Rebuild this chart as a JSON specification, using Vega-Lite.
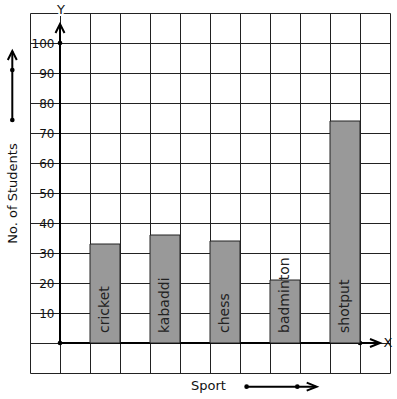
{
  "$schema": "https://vega.github.io/schema/vega-lite/v6.json",
  "width": 360,
  "height": 360,
  "autosize": "none",
  "padding": {"left": 30, "top": 13, "right": 7, "bottom": 26},
  "background": "white",
  "config": {"view": {"stroke": null}, "font": "DejaVu Sans"},
  "layer": [
    {
      "data": {"values": [{}]},
      "layer": [
        {
          "mark": {"type": "rule", "color": "black", "strokeWidth": 2},
          "encoding": {
            "x": {"datum": 0, "type": "quantitative",
              "scale": {"domain": [-1, 11], "nice": false, "zero": false},
              "axis": {"values": [-1,0,1,2,3,4,5,6,7,8,9,10,11], "tickCount": 50, "grid": true, "gridColor": "#222", "gridOpacity": 1, "gridWidth": 1,
                "labels": false, "ticks": false, "domain": false, "labelOverlap": false,
                "title": "Sport", "titleFontSize": 13, "titleFontWeight": "normal", "titleColor": "#111",
                "titleX": 178, "titleY": 12, "titleBaseline": "middle", "titleAlign": "center"}},
            "y": {"datum": 0, "type": "quantitative",
              "scale": {"domain": [-10, 110], "nice": false, "zero": false},
              "axis": {"orient": "left", "values": [-10,0,10,20,30,40,50,60,70,80,90,100,110], "tickCount": 50, "grid": true, "gridColor": "#222", "gridOpacity": 1, "gridWidth": 1,
                "labels": false, "ticks": false, "domain": false, "labelOverlap": false,
                "title": "No. of Students", "titleFontSize": 13, "titleFontWeight": "normal", "titleColor": "#111",
                "titleX": -18, "titleY": 180, "titleBaseline": "middle", "titleAlign": "center", "titleAngle": -90}},
            "y2": {"datum": 106.3}
          }
        },
        {
          "mark": {"type": "rule", "color": "black", "strokeWidth": 2},
          "encoding": {"y": {"datum": 0, "type": "quantitative"}, "x": {"datum": 0, "type": "quantitative"}, "x2": {"datum": 10.65}}
        },
        {
          "mark": {"type": "rule", "color": "black", "strokeWidth": 2},
          "encoding": {"x": {"datum": -1.59, "type": "quantitative"}, "y": {"datum": 74.33, "type": "quantitative"}, "y2": {"datum": 97.3}}
        },
        {
          "mark": {"type": "rule", "color": "black", "strokeWidth": 2},
          "encoding": {"y": {"datum": -14.56, "type": "quantitative"}, "x": {"datum": 6.22, "type": "quantitative"}, "x2": {"datum": 8.52}}
        },
        {"mark": {"type": "point", "filled": true, "color": "black", "size": 22, "opacity": 1},
          "encoding": {"x": {"datum": 0, "type": "quantitative"}, "y": {"datum": 100, "type": "quantitative"}}},
        {"mark": {"type": "point", "filled": true, "color": "black", "size": 22, "opacity": 1},
          "encoding": {"x": {"datum": 0, "type": "quantitative"}, "y": {"datum": 0, "type": "quantitative"}}},
        {"mark": {"type": "point", "filled": true, "color": "black", "size": 22, "opacity": 1},
          "encoding": {"x": {"datum": 10, "type": "quantitative"}, "y": {"datum": 0, "type": "quantitative"}}},
        {"mark": {"type": "point", "filled": true, "color": "black", "size": 22, "opacity": 1},
          "encoding": {"x": {"datum": -1.59, "type": "quantitative"}, "y": {"datum": 74.33, "type": "quantitative"}}},
        {"mark": {"type": "point", "filled": true, "color": "black", "size": 22, "opacity": 1},
          "encoding": {"x": {"datum": -1.59, "type": "quantitative"}, "y": {"datum": 91, "type": "quantitative"}}},
        {"mark": {"type": "point", "filled": true, "color": "black", "size": 22, "opacity": 1},
          "encoding": {"x": {"datum": 6.22, "type": "quantitative"}, "y": {"datum": -14.56, "type": "quantitative"}}},
        {"mark": {"type": "point", "filled": true, "color": "black", "size": 22, "opacity": 1},
          "encoding": {"x": {"datum": 7.91, "type": "quantitative"}, "y": {"datum": -14.56, "type": "quantitative"}}},
        {"mark": {"type": "point", "filled": false, "stroke": "black", "strokeWidth": 2, "size": 81, "opacity": 1, "shape": "M -1 1 L 0 -1 L 1 1"},
          "encoding": {"x": {"datum": 0, "type": "quantitative"}, "y": {"datum": 104.83, "type": "quantitative"}}},
        {"mark": {"type": "point", "filled": false, "stroke": "black", "strokeWidth": 2, "size": 81, "opacity": 1, "shape": "M -1 1 L 0 -1 L 1 1"},
          "encoding": {"x": {"datum": -1.59, "type": "quantitative"}, "y": {"datum": 95.83, "type": "quantitative"}}},
        {"mark": {"type": "point", "filled": false, "stroke": "black", "strokeWidth": 2, "size": 100, "opacity": 1, "shape": "M -1 -0.8 L 1 0 L -1 0.8"},
          "encoding": {"x": {"datum": 10.5, "type": "quantitative"}, "y": {"datum": 0, "type": "quantitative"}}},
        {"mark": {"type": "point", "filled": false, "stroke": "black", "strokeWidth": 2, "size": 100, "opacity": 1, "shape": "M -1 -0.8 L 1 0 L -1 0.8"},
          "encoding": {"x": {"datum": 8.39, "type": "quantitative"}, "y": {"datum": -14.56, "type": "quantitative"}}},
        {"mark": {"type": "text", "text": "X", "fontSize": 13, "color": "#111", "align": "center", "baseline": "middle"},
          "encoding": {"x": {"datum": 10.93, "type": "quantitative"}, "y": {"datum": 0, "type": "quantitative"}}},
        {"mark": {"type": "text", "text": "Y", "fontSize": 13, "color": "white", "align": "center", "baseline": "middle", "stroke": "white", "strokeWidth": 4},
          "encoding": {"x": {"datum": 0.03, "type": "quantitative"}, "y": {"datum": 111, "type": "quantitative"}}},
        {"mark": {"type": "text", "text": "Y", "fontSize": 13, "color": "#111", "align": "center", "baseline": "middle"},
          "encoding": {"x": {"datum": 0.03, "type": "quantitative"}, "y": {"datum": 111, "type": "quantitative"}}}
      ]
    },
    {
      "data": {"values": [
        {"sport": "cricket", "students": 33},
        {"sport": "kabaddi", "students": 36},
        {"sport": "chess", "students": 34},
        {"sport": "badminton", "students": 21},
        {"sport": "shotput", "students": 74}
      ]},
      "encoding": {
        "x": {"field": "sport", "type": "nominal", "sort": null,
          "scale": {"paddingInner": 0.5, "paddingOuter": 0.75, "align": 0.6667}, "axis": null}
      },
      "layer": [
        {
          "mark": {"type": "bar", "color": "#999999", "stroke": "#222", "strokeWidth": 1},
          "encoding": {
            "y": {"field": "students", "type": "quantitative",
              "scale": {"domain": [-10, 110], "nice": false, "zero": false},
              "axis": {"orient": "left", "offset": -30, "values": [10,20,30,40,50,60,70,80,90,100], "tickCount": 50,
                "grid": false, "domain": false, "ticks": false, "labelPadding": 6, "labelOverlap": false,
                "labelFontSize": 12, "labelColor": "#111", "labelFont": "DejaVu Sans", "title": null}}
          }
        },
        {
          "mark": {"type": "text", "angle": 270, "align": "left", "baseline": "middle", "dx": 10, "fontSize": 14, "color": "#222"},
          "encoding": {
            "y": {"datum": 0, "type": "quantitative"},
            "text": {"field": "sport"}
          }
        }
      ]
    }
  ],
  "resolve": {"scale": {"x": "independent"}, "axis": {"x": "independent", "y": "independent"}}
}
